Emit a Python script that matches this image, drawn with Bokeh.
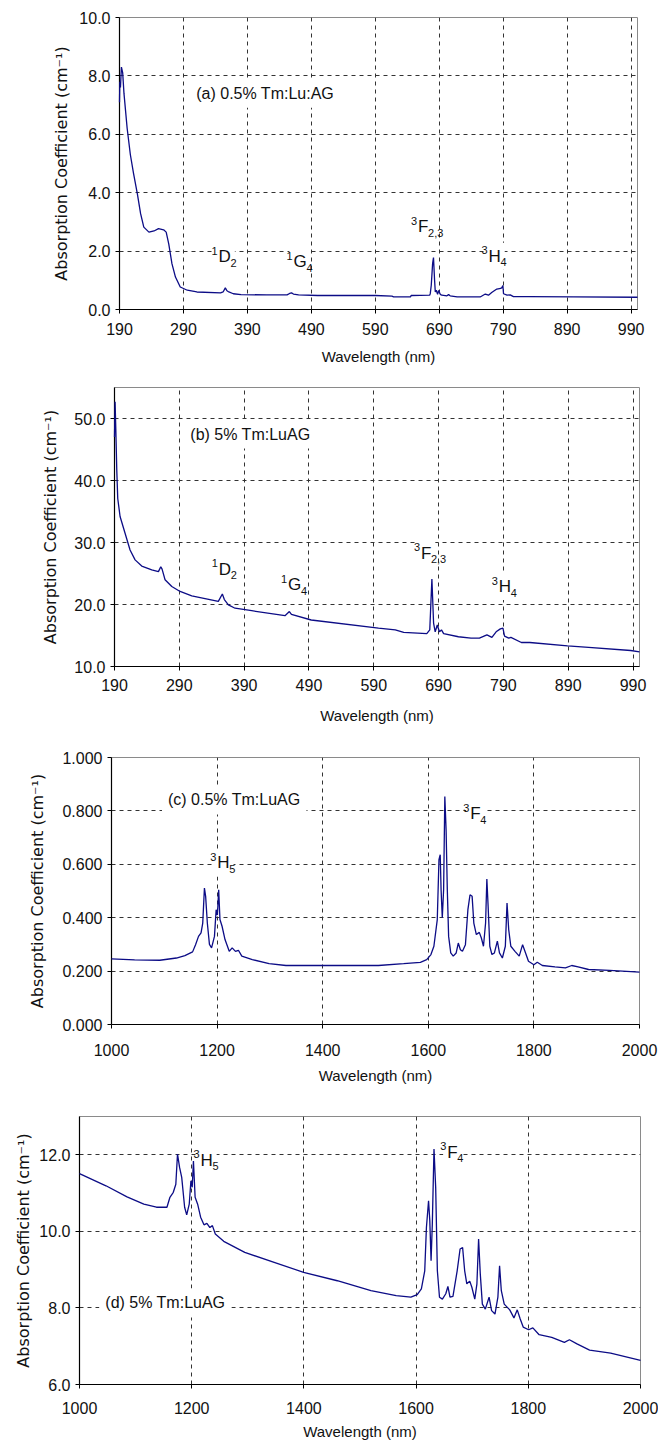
from bokeh.plotting import figure
from bokeh.models import FixedTicker, NumeralTickFormatter, Label, Range1d
from bokeh.embed import file_html
from bokeh.resources import INLINE

# ---------------- data ----------------
# (a) 0.5% Tm:LuAG, UV-NIR
a_wl = [190, 190.5, 191.5, 193, 195, 197, 202, 207, 212, 218, 223, 228, 236, 244, 251, 259, 263, 267,
        272, 277.5, 285, 296, 311, 348, 352, 355.5, 358, 361, 368, 380, 420, 452, 456, 459, 462, 470,
        500, 590, 616, 618.6, 645, 646, 675, 676, 677.5, 679.6, 681, 682.7, 683.8, 685.3, 687.4, 689,
        691.6, 694, 702, 704.6, 707, 718, 754, 762, 767, 772, 780, 786, 788, 789.5, 790.5, 796, 801,
        806, 830, 900, 1000]
a_abs = [7.1, 7.8, 7.6, 8.3, 8.1, 7.4, 6.2, 5.3, 4.65, 3.95, 3.28, 2.82, 2.65, 2.69, 2.77, 2.73, 2.65, 2.25,
         1.57, 1.11, 0.77, 0.66, 0.60, 0.57, 0.6, 0.74, 0.64, 0.6, 0.54, 0.51, 0.5, 0.5, 0.55, 0.57, 0.53, 0.5,
         0.48, 0.48, 0.455, 0.43, 0.43, 0.48, 0.49, 0.55, 0.83, 1.57, 1.78, 1.0, 0.60, 0.66, 0.52, 0.65,
         0.52, 0.49, 0.47, 0.51, 0.47, 0.43, 0.43, 0.53, 0.49, 0.58, 0.7, 0.72, 0.75, 0.82, 0.54, 0.49, 0.5,
         0.44, 0.44, 0.43, 0.42]

# (b) 5% Tm:LuAG, UV-NIR
b_wl = [190, 190.9, 192, 193.5, 195, 198.6, 206.3, 214, 221.8, 232, 247.5, 257.8, 261.4, 263.4, 268,
        278.4, 291.2, 309.2, 329.7, 350.2, 356.4, 359.5, 365.7, 376, 401.7, 453, 459.8, 463, 493.5,
        597.3, 623.2, 636.2, 671.8, 676.4, 679.7, 682.3, 684.8, 688, 691.3, 694.5, 697.8, 720.6, 740,
        753, 764.6, 772.3, 778.8, 785.3, 789.3, 791.8, 798.3, 801.6, 817.7, 830.8, 889, 921.5, 986.4, 1000]
b_abs = [47.0, 52.7, 48.4, 41.7, 37.1, 34.2, 31.5, 28.8, 27.2, 26.2, 25.6, 25.3, 26.1, 25.7, 24.0,
         22.9, 22.1, 21.4, 20.95, 20.5, 21.7, 20.8, 19.94, 19.4, 19.0, 18.2, 18.86, 18.4, 17.5,
         16.2, 15.9, 15.5, 15.3, 15.9, 24.1, 17.0, 15.6, 16.7, 15.6, 15.9, 15.3, 14.8, 14.57,
         14.57, 15.1, 14.7, 15.6, 16.07, 16.2, 14.9, 14.57, 14.7, 13.87, 13.87, 13.33, 13.1, 12.58, 12.37]

# (c) 0.5% Tm:LuAG, NIR
c_wl = [1000, 1043.8, 1091.5, 1123, 1139, 1153.6, 1159.2, 1164.8, 1169.6, 1172.8, 1176, 1178.3, 1181.5,
        1185.5, 1189.5, 1195, 1198.2, 1200.6, 1203, 1205.4, 1209.4, 1215, 1223, 1228.5, 1234.8, 1240.4,
        1246.8, 1266.7, 1298.5, 1330.4, 1505.5, 1553.3, 1585, 1597, 1605, 1610.6, 1617, 1620.2, 1622.6,
        1624.2, 1626.5, 1629, 1631.3, 1633.7, 1636, 1638.5, 1642.5, 1647.2, 1652.8, 1656.8, 1660.8,
        1664.7, 1670.3, 1675, 1679, 1683, 1686.2, 1691, 1696.6, 1700.5, 1704.5, 1708.5, 1710.9, 1713.3,
        1716.5, 1720.5, 1725.2, 1730.8, 1734.8, 1740.3, 1745.9, 1749.1, 1752.3, 1756.3, 1764.2, 1772.2,
        1778.6, 1784.2, 1789.7, 1800, 1806.4, 1816, 1839.9, 1859.8, 1871.7, 1883.7, 1903.6, 1943.4, 2000]
c_abs = [0.2456, 0.242, 0.2406, 0.249, 0.258, 0.272, 0.299, 0.33, 0.343, 0.38, 0.511, 0.48, 0.38,
         0.30, 0.287, 0.33, 0.43, 0.41, 0.505, 0.393, 0.368, 0.318, 0.274, 0.287, 0.274, 0.278,
         0.256, 0.243, 0.228, 0.221, 0.221, 0.228, 0.233, 0.243, 0.262, 0.293, 0.393, 0.617, 0.636,
         0.505, 0.40, 0.505, 0.854, 0.729, 0.505, 0.33, 0.268, 0.256, 0.268, 0.305, 0.28,
         0.274, 0.299, 0.43, 0.486, 0.48, 0.38, 0.337, 0.345, 0.324, 0.293, 0.38, 0.545, 0.443,
         0.293, 0.262, 0.268, 0.312, 0.268, 0.249, 0.293, 0.455, 0.355, 0.293, 0.274, 0.256,
         0.299, 0.268, 0.237, 0.224, 0.233, 0.221, 0.216, 0.212, 0.221, 0.216, 0.206, 0.203, 0.196]

# (d) 5% Tm:LuAG, NIR
d_wl = [1000, 1047.2, 1084.7, 1114.7, 1137.2, 1155.9, 1161.2, 1167.2, 1171.7, 1174.7, 1178.4, 1182.2,
        1187.4, 1191.1, 1195.6, 1198.6, 1200.9, 1203.1, 1206.1, 1210.6, 1215.9, 1221.9, 1227.1, 1232.4,
        1236.9, 1242.1, 1257.1, 1294.6, 1347, 1399.5, 1459.5, 1519.5, 1564.5, 1590.7, 1602, 1609.4,
        1615.4, 1618.4, 1622.2, 1624.4, 1626.7, 1628.9, 1631.9, 1634.9, 1637.9, 1641.7, 1646.9, 1652.9,
        1656.7, 1660.4, 1665.7, 1673.2, 1678.4, 1682.9, 1686.6, 1690.4, 1695.6, 1699.4, 1704.6, 1708.4,
        1711.4, 1714.4, 1718.1, 1723.4, 1730.1, 1734.6, 1740.6, 1745.8, 1748.8, 1751.9, 1757.1, 1766.9,
        1774.4, 1780.3, 1785.6, 1790.9, 1800.6, 1808.1, 1819.3, 1841.8, 1864.3, 1873.3, 1886.8, 1909.3,
        1946.8, 2000]
d_abs = [11.51, 11.19, 10.9, 10.71, 10.63, 10.63, 10.89, 11.02, 11.23, 12.02, 11.67, 11.41,
         10.63, 10.43, 10.71, 11.32, 11.15, 11.84, 10.89, 10.71, 10.37, 10.17, 10.21, 10.1,
         10.15, 9.93, 9.74, 9.45, 9.19, 8.93, 8.71, 8.45, 8.32, 8.28, 8.35, 8.5,
         8.97, 10.1, 10.8, 10.28, 9.23, 10.19, 12.15, 11.15, 8.97, 8.28, 8.23, 8.37,
         8.56, 8.28, 8.3, 8.97, 9.54, 9.58, 8.97, 8.63, 8.7, 8.54, 8.23, 8.63,
         9.8, 8.89, 8.1, 7.97, 8.28, 7.93, 7.84, 8.28, 9.1, 8.45, 8.1, 7.95,
         7.74, 7.95, 7.71, 7.5, 7.43, 7.48, 7.3, 7.23, 7.1, 7.17, 7.06, 6.9,
         6.82, 6.63]

# tick values
uv_xticks = [190, 290, 390, 490, 590, 690, 790, 890, 990]
nir_xticks = [1000, 1200, 1400, 1600, 1800, 2000]
a_yticks = [0, 2, 4, 6, 8, 10]
b_yticks = [10, 20, 30, 40, 50]
c_yticks = [0, 0.2, 0.4, 0.6, 0.8, 1.0]
d_yticks = [6, 8, 10, 12]

# texts
sample_labels = ["(a) 0.5% Tm:Lu:AG", "(b) 5% Tm:LuAG", "(c) 0.5% Tm:LuAG", "(d) 5% Tm:LuAG"]
XLABEL = "Wavelength (nm)"
YLABEL = "Absorption Coefficient (cm\u207b\u00b9)"

FONT = "Liberation Sans"
LINE = "#0c0c86"
TOTAL_W = 658


def make_fig(xr, yr, xticks, yticks, fmt, left, fw, fh, top, bottom,
             ylab_standoff, tick_standoff, xlab_standoff):
    p = figure(output_backend="svg", toolbar_location=None,
               x_range=Range1d(*xr), y_range=Range1d(*yr),
               frame_width=fw, frame_height=fh,
               min_border_left=left, min_border_right=TOTAL_W - left - fw,
               min_border_top=top, min_border_bottom=bottom)
    p.background_fill_color = "white"
    p.border_fill_color = "white"
    p.outline_line_color = "#8a8a8a"
    p.outline_line_width = 1
    for ax in (p.xaxis[0], p.yaxis[0]):
        ax.axis_line_color = "black"
        ax.axis_line_width = 1.2
        ax.major_tick_line_color = "black"
        ax.major_tick_out = 4
        ax.major_tick_in = 0
        ax.minor_tick_out = 0
        ax.minor_tick_in = 0
        ax.major_label_text_font = FONT
        ax.major_label_text_font_size = "16px"
        ax.major_label_text_color = "#111111"
        ax.axis_label_text_font_style = "normal"
        ax.axis_label_text_color = "#111111"
    p.xaxis.ticker = FixedTicker(ticks=xticks)
    p.yaxis.ticker = FixedTicker(ticks=yticks)
    p.yaxis.formatter = NumeralTickFormatter(format=fmt)
    p.xaxis.major_label_standoff = tick_standoff
    p.yaxis.major_label_standoff = 5
    p.xaxis.axis_label = XLABEL
    p.xaxis.axis_label_text_font = FONT
    p.xaxis.axis_label_text_font_size = "15px"
    p.xaxis.axis_label_standoff = xlab_standoff
    p.yaxis.axis_label = YLABEL
    p.yaxis.axis_label_text_font = "DejaVu Sans"
    p.yaxis.axis_label_text_font_size = "16px"
    p.yaxis.axis_label_standoff = ylab_standoff
    # dashed grids, only interior lines
    p.xgrid.ticker = FixedTicker(ticks=[t for t in xticks if xr[0] < t < xr[1]])
    p.ygrid.ticker = FixedTicker(ticks=[t for t in yticks if yr[0] < t < yr[1]])
    for g in (p.xgrid[0], p.ygrid[0]):
        g.grid_line_color = "#333333"
        g.grid_line_dash = "4 4"
        g.grid_line_width = 1
    return p


def sample(p, x, y, text):
    pad = 6
    p.add_layout(Label(x=x, y=y, x_offset=-pad, text=text, text_font=FONT, text_font_size="16px",
                       text_color="#111111", text_baseline="middle", text_align="left",
                       background_fill_color="white", padding=pad))


def term(p, x, y, sup, main, sub, main_w):
    sup_w = 6
    pad = 4
    p.add_layout(Label(x=x, y=y, x_offset=sup_w + 1 - pad, text=main, text_font=FONT,
                       text_font_size="17px", text_color="#111111", text_baseline="middle",
                       text_align="left", background_fill_color="white", padding=pad))
    p.add_layout(Label(x=x, y=y, y_offset=6, text=sup, text_font=FONT, text_font_size="11px",
                       text_color="#111111", text_baseline="middle", text_align="left"))
    p.add_layout(Label(x=x, y=y, x_offset=sup_w + 1 + main_w, y_offset=-6, text=sub, text_font=FONT,
                       text_font_size="11px", text_color="#111111", text_baseline="middle",
                       text_align="left"))


pa = make_fig((190, 1000), (0, 10), uv_xticks, a_yticks, "0.0", 119, 518, 292, 17, 67, 5, 9, 10)
pb = make_fig((190, 1000), (10, 55), uv_xticks, b_yticks, "0.0", 114, 525, 279, 11, 74, 11, 8, 13)
pc = make_fig((1000, 2000), (0, 1), nir_xticks, c_yticks, "0.000", 111, 528, 267, 17, 76, 12, 15, 8)
pd = make_fig((1000, 2000), (6, 13), nir_xticks, d_yticks, "0.0", 79, 561, 268, 16, 56, 3, 13, 6)

for p, xs, ys in ((pa, a_wl, a_abs), (pb, b_wl, b_abs), (pc, c_wl, c_abs), (pd, d_wl, d_abs)):
    r = p.line(xs, ys, line_color=LINE, line_width=1.3)
    r.level = "overlay"

sample(pa, 310, 7.41, sample_labels[0])
sample(pb, 307, 47.5, sample_labels[1])
sample(pc, 1107, 0.841, sample_labels[2])
sample(pd, 1046, 8.13, sample_labels[3])

term(pa, 334, 1.80, "1", "D", "2", 12)
term(pa, 451, 1.63, "1", "G", "4", 13)
term(pa, 646, 2.83, "3", "F", "2,3", 10)
term(pa, 756, 1.82, "3", "H", "4", 12)

term(pb, 340, 25.7, "1", "D", "2", 12)
term(pb, 447, 23.2, "1", "G", "4", 13)
term(pb, 652, 28.3, "3", "F", "2,3", 10)
term(pb, 772, 22.9, "3", "H", "4", 12)

term(pc, 1187, 0.605, "3", "H", "5", 12)
term(pc, 1666, 0.79, "3", "F", "4", 10)

term(pd, 1203, 11.86, "3", "H", "5", 12)
term(pd, 1643, 12.06, "3", "F", "4", 10)

open("out.html", "w").write(file_html([pa, pb, pc, pd], INLINE))
